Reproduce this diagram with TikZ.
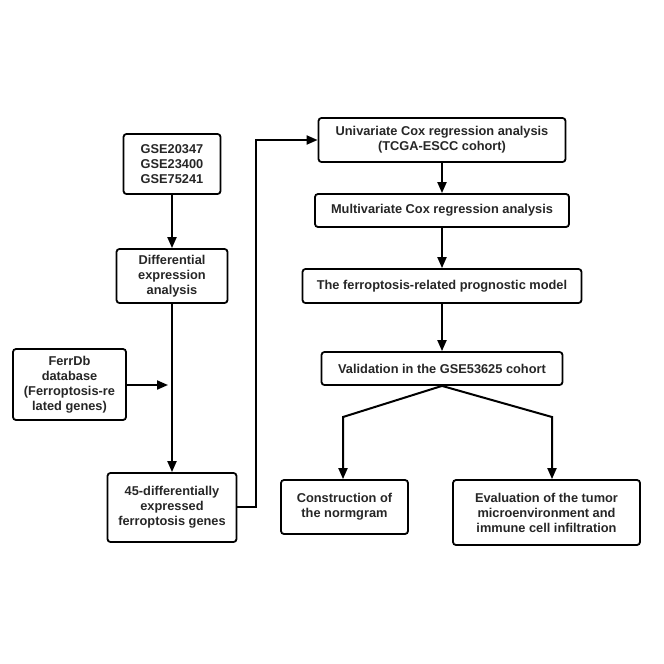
\documentclass[tikz,border=0pt]{standalone}
\usepackage{fontspec}
\setmainfont{Liberation Sans}
\usetikzlibrary{arrows.meta,calc}
\begin{document}
\begin{tikzpicture}[x=1pt,y=-1pt,
  box/.style={draw, line width=1.8pt, rounded corners=3pt, align=center, inner sep=0pt,
    font=\fontsize{12.8}{15}\selectfont\bfseries, text=black!85},
  conn/.style={line width=2pt, -{Triangle[length=11pt,width=9pt]}}]
\useasboundingbox (0,0) rectangle (664,664);
\node[box, minimum width=97pt, minimum height=60pt] (gse) at (172,164) {GSE20347\\GSE23400\\GSE75241};
\node[box, minimum width=111pt, minimum height=54pt] (diff) at (172,276) {Differential\\expression\\analysis};
\node[box, minimum width=113pt, minimum height=71pt] (ferr) at (69.5,384.5) {FerrDb\\database\\(Ferroptosis-re\\lated genes)};
\node[box, minimum width=129pt, minimum height=69pt] (deg) at (172,507.5) {45-differentially\\expressed\\ferroptosis genes};
\node[box, minimum width=247pt, minimum height=44pt] (uni) at (442,140) {Univariate Cox regression analysis\\(TCGA-ESCC cohort)};
\node[box, minimum width=254pt, minimum height=33pt] (multi) at (442,210.5) {Multivariate Cox regression analysis};
\node[box, minimum width=279pt, minimum height=34pt] (model) at (442,286) {The ferroptosis-related prognostic model};
\node[box, minimum width=241pt, minimum height=33pt] (valid) at (442,368.5) {Validation in the GSE53625 cohort};
\node[box, minimum width=127pt, minimum height=54pt] (cons) at (344.5,507) {Construction of\\the normgram};
\node[box, minimum width=187pt, minimum height=65pt] (eval) at (546.5,512.5) {Evaluation of the tumor\\microenvironment and\\immune cell infiltration};
\coordinate (j) at (172,385);
\coordinate (bl) at (343,417);
\coordinate (br) at (552,417);
\coordinate (up) at (256,507);
\draw[conn] (gse.south) -- (diff.north);
\draw[conn] (diff.south) -- (deg.north);
\draw[conn, shorten >=4pt] (ferr.east |- j) -- (j);
\draw[conn] (deg.east |- up) -- (up) |- (uni.west);
\draw[conn] (uni.south) -- (multi.north);
\draw[conn] (multi.south) -- (model.north);
\draw[conn] (model.south) -- (valid.north);
\draw[conn] (valid.south) -- (bl) -- (bl |- cons.north);
\draw[conn] (valid.south) -- (br) -- (br |- eval.north);
\end{tikzpicture}
\end{document}
